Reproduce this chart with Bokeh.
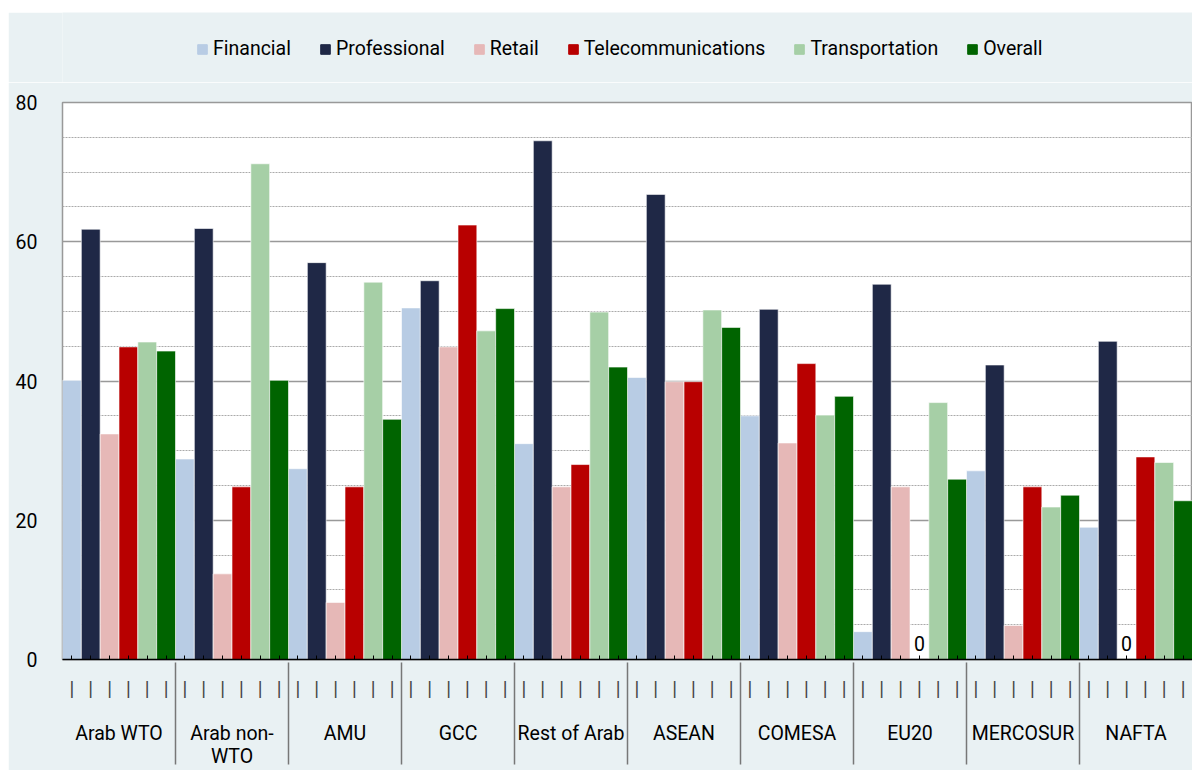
from bokeh.plotting import figure
from bokeh.models import (ColumnDataSource, FactorRange, Range1d, SingleIntervalTicker, Spacer,
                          Legend, LegendItem, CustomJSTickFormatter)
from bokeh.layouts import column, row
from bokeh.core.properties import value
from bokeh.embed import file_html
from bokeh.resources import INLINE

groups = ["Arab WTO", "Arab non-\nWTO", "AMU", "GCC", "Rest of Arab", "ASEAN",
          "COMESA", "EU20", "MERCOSUR", "NAFTA"]
series = ["Financial", "Professional", "Retail", "Telecommunications", "Transportation", "Overall"]
colors = ["#b8cce4", "#1f2846", "#e6b8b7", "#b80000", "#a6cfa6", "#006400"]

financial = [40.1, 28.8, 27.4, 50.5, 31.0, 40.5, 35.0, 4.0, 27.1, 19.0]
professional = [61.8, 61.9, 57.0, 54.4, 74.5, 66.8, 50.3, 53.9, 42.3, 45.7]
retail = [32.4, 12.3, 8.2, 44.9, 24.8, 39.9, 31.1, 24.8, 4.9, 0.0]
telecom = [44.9, 24.8, 24.8, 62.4, 28.0, 39.9, 42.5, 0.0, 24.8, 29.1]
transport = [45.6, 71.2, 54.2, 47.2, 49.9, 50.2, 35.1, 36.9, 21.9, 28.3]
overall = [44.3, 40.1, 34.5, 50.4, 42.0, 47.7, 37.8, 25.9, 23.6, 22.8]
values = [financial, professional, retail, telecom, transport, overall]

FONT = "Roboto"
FS = "19.5px"
BG = "#e9f1f3"

factors = [(g, s) for g in groups for s in series]

# ---------------- legend strip ----------------
lf = figure(width=1184, height=70, output_backend="svg", toolbar_location=None,
            x_range=Range1d(0, 1), y_range=Range1d(0, 1),
            x_axis_type=None, y_axis_type=None, min_border=0)
lf.background_fill_color = BG
lf.border_fill_color = BG
lf.outline_line_color = None
lf.grid.visible = False

items = []
for name, col in zip(series, colors):
    # swatch-only renderer, its single bar lies outside the visible range
    r = lf.vbar(x=[-5], top=[-5], bottom=[-6], width=1.0, fill_color=col, line_color=col)
    items.append(LegendItem(label=name, renderers=[r]))
lg = Legend(items=items, orientation="horizontal", location=(134, 22),
            background_fill_alpha=0, border_line_alpha=0,
            label_text_font=FONT, label_text_font_size=FS, label_text_color="black",
            glyph_width=12, glyph_height=12, label_standoff=5, spacing=28,
            padding=0, margin=0)
lf.add_layout(lg)

# ---------------- main chart ----------------
p = figure(x_range=FactorRange(*factors, factor_padding=0, group_padding=0, range_padding=0),
           y_range=Range1d(0, 80),
           width=1184, height=688, output_backend="svg", toolbar_location=None,
           min_border_left=54, min_border_right=0, min_border_top=20, min_border_bottom=110)

for name, vals, col in zip(series, values, colors):
    src = ColumnDataSource(dict(x=[(g, name) for g in groups], top=vals))
    p.vbar(x="x", top="top", width=1.0, source=src, fill_color=col,
           line_color="white", line_width=1, line_alpha=0.6)

# zero value labels
zx, zt = [], []
for name, vals in zip(series, values):
    for g, v in zip(groups, vals):
        if v == 0:
            zx.append((g, name))
            zt.append("0")
p.text(x=zx, y=[0] * len(zx), text=zt, text_align="center", text_baseline="alphabetic",
       y_offset=-16, text_font=value(FONT), text_font_size=FS, text_color="black")

p.background_fill_color = "white"
p.border_fill_color = BG
p.outline_line_color = "#999999"
p.outline_line_width = 1.5

p.yaxis.ticker = SingleIntervalTicker(interval=20, num_minor_ticks=4)
p.yaxis.axis_line_color = None
p.yaxis.major_tick_line_color = None
p.yaxis.minor_tick_line_color = None
p.yaxis.major_label_text_font = FONT
p.yaxis.major_label_text_font_size = FS
p.yaxis.major_label_text_color = "black"
p.yaxis.major_label_standoff = 19

p.ygrid.grid_line_color = "#999999"
p.ygrid.grid_line_width = 1.5
p.ygrid.minor_grid_line_color = "#aaaaaa"
p.ygrid.minor_grid_line_dash = "2 1"
p.xgrid.grid_line_color = None

xa = p.xaxis[0]
xa.formatter = CustomJSTickFormatter(code="return '|'")
xa.axis_line_color = "black"
xa.axis_line_width = 1.5
xa.major_tick_in = 4
xa.major_tick_out = 0
xa.major_tick_line_color = "black"
xa.major_label_text_font = FONT
xa.major_label_text_font_size = FS
xa.major_label_text_color = "#444444"
xa.major_label_text_line_height = 0.9
xa.major_label_standoff = 18
xa.group_text_font = FONT
xa.group_text_font_size = FS
xa.group_text_color = "black"
xa.group_text_font_style = "normal"
xa.group_text_line_height = 1.0
xa.separator_line_color = "#777777"
xa.separator_line_width = 1.5

layout = row(Spacer(width=8), column(Spacer(height=12), lf, p, spacing=0), spacing=0)
open("out.html", "w").write(file_html(layout, INLINE))
